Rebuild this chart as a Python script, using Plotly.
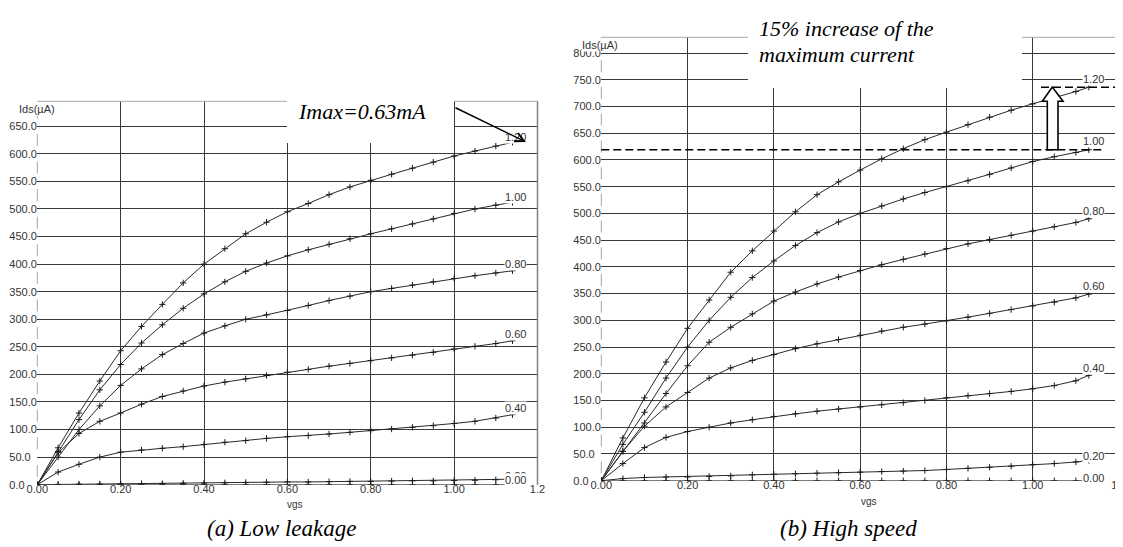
import plotly.graph_objects as go

W, H = 1123, 547

# ---------------- data ----------------
gate_labels = ["1.20", "1.00", "0.80", "0.60", "0.40", "0.20", "0.00"]

# (a) Low leakage : Ids (uA) versus vds (V)
vds_ll = [0.00, 0.05, 0.10, 0.15, 0.20, 0.25, 0.30, 0.35, 0.40, 0.45, 0.50, 0.55,
          0.60, 0.65, 0.70, 0.75, 0.80, 0.85, 0.90, 0.95, 1.00, 1.05, 1.10, 1.14]
ll_vg120 = [0, 67, 130, 188, 243, 287, 327, 366, 400, 428, 455, 476,
            495, 510, 526, 540, 552, 563, 574, 585, 596, 605, 614, 621]
ll_vg100 = [0, 60, 118, 172, 218, 257, 290, 320, 346, 368, 387, 402,
            415, 426, 436, 446, 455, 464, 473, 482, 492, 500, 507, 512]
ll_vg080 = [0, 50, 100, 143, 180, 210, 236, 256, 275, 288, 300, 308,
            316, 325, 334, 342, 350, 356, 362, 368, 374, 379, 384, 388]
ll_vg060 = [0, 58, 93, 115, 130, 146, 160, 170, 179, 186, 192, 198,
            204, 209, 215, 220, 225, 230, 235, 240, 246, 251, 256, 261]
ll_vg040 = [0, 23, 37, 50, 59, 63, 66, 69, 73, 77, 80, 84,
            87, 89, 92, 95, 98, 101, 104, 107, 111, 115, 121, 127]
ll_vg020 = [0, 0.5, 1, 1, 1.5, 2, 2, 2.5, 3, 3.5, 4, 4.5,
            5, 5, 5.5, 6, 6, 6.5, 7, 7, 7.5, 8, 9, 10]
ll_vg000 = [0, 0, 0, 0, 0, 0, 0, 0, 0, 0, 0, 0,
            0, 0, 0, 0, 0, 0, 0, 0, 0, 0, 0, 0]

# (b) High speed
vds_hs = [0.00, 0.05, 0.10, 0.15, 0.20, 0.25, 0.30, 0.35, 0.40, 0.45, 0.50, 0.55,
          0.60, 0.65, 0.70, 0.75, 0.80, 0.85, 0.90, 0.95, 1.00, 1.05, 1.10, 1.13]
hs_vg120 = [0, 80, 155, 222, 285, 338, 390, 430, 467, 503, 535, 559,
            581, 602, 621, 638, 652, 666, 680, 693, 705, 716, 728, 736]
hs_vg100 = [0, 68, 128, 192, 250, 300, 343, 380, 411, 440, 464, 484,
            500, 514, 527, 539, 550, 561, 573, 585, 597, 606, 614, 619]
hs_vg080 = [0, 55, 108, 163, 215, 259, 287, 312, 336, 353, 368, 381,
            393, 404, 414, 424, 434, 443, 451, 459, 467, 475, 483, 490]
hs_vg060 = [0, 55, 102, 138, 165, 192, 211, 225, 236, 247, 256, 264,
            272, 280, 287, 293, 299, 306, 313, 320, 327, 334, 342, 349]
hs_vg040 = [0, 32, 62, 81, 92, 100, 108, 114, 120, 125, 130, 134,
            138, 142, 146, 150, 155, 159, 163, 167, 172, 178, 187, 197]
hs_vg020 = [0, 4, 6, 7, 7, 8, 9, 11, 12, 13, 14, 15,
            16, 17, 18, 19, 21, 23, 25, 27, 30, 32, 35, 38]
hs_vg000 = [0, 0, 0, 0, 0, 0, 0, 0, 0, 0, 0, 0,
            0, 0, 0, 0, 0, 0, 0, 0, 0, 0, 0, 0]

x_tickvals = [0.0, 0.2, 0.4, 0.6, 0.8, 1.0, 1.2]
x_ticktext = ["0.00", "0.20", "0.40", "0.60", "0.80", "1.00", "1.2"]
x_gridvals = [0.2, 0.4, 0.6, 0.8, 1.0]
y_tickvals_ll = [0, 50, 100, 150, 200, 250, 300, 350, 400, 450, 500, 550, 600, 650]
y_tickvals_hs = [0, 50, 100, 150, 200, 250, 300, 350, 400, 450, 500, 550, 600, 650, 700, 750, 800]
y_max_ll = 695.3
y_max_hs = 829.4

ll_series = [ll_vg120, ll_vg100, ll_vg080, ll_vg060, ll_vg040, ll_vg020, ll_vg000]
hs_series = [hs_vg120, hs_vg100, hs_vg080, hs_vg060, hs_vg040, hs_vg020, hs_vg000]

# ---------------- layout geometry (pixels) ----------------
def px(x):
    return x / W

def py(y):
    return 1 - y / H

LL_X = (29.3, 529.5)
LL_Y = (476.7, 93.3)
HS_X = (593.3, 1111.0)
HS_Y = (472.7, 29.3)

SANS = "Liberation Sans, Arial, sans-serif"
SERIF = "Liberation Serif, Times New Roman, serif"
GRID = "#3a3a3a"
TXT = "#333333"

fig = go.Figure()

curve_line = dict(color="#2a2a2a", width=1)
curve_marker = dict(symbol="cross-thin", size=4.5, color="#1a1a1a",
                    line=dict(width=1, color="#1a1a1a"))

for vals in ll_series:
    fig.add_trace(go.Scatter(x=vds_ll, y=vals, xaxis="x", yaxis="y",
                             mode="lines+markers", line=curve_line,
                             marker=curve_marker, showlegend=False,
                             hoverinfo="skip"))
for vals in hs_series:
    fig.add_trace(go.Scatter(x=vds_hs, y=vals, xaxis="x2", yaxis="y2",
                             mode="lines+markers", line=curve_line,
                             marker=curve_marker, showlegend=False,
                             hoverinfo="skip"))

def xaxis_cfg(dom, anchor):
    return dict(domain=[px(dom[0]), px(dom[1])], range=[0, 1.2], anchor=anchor,
                tickmode="array", tickvals=x_tickvals, ticktext=x_ticktext,
                showgrid=False, zeroline=False, showline=False, ticks="",
                ticklabelstandoff=-4,
                minor=dict(tickmode="array", tickvals=x_gridvals, showgrid=True,
                           gridcolor=GRID, gridwidth=1, ticks=""),
                tickfont=dict(family=SANS, size=11, color=TXT),
                automargin=False, fixedrange=True)

def yaxis_cfg(dom, top, tickvals, anchor):
    return dict(domain=[py(dom[0]), py(dom[1])], range=[0, top], anchor=anchor,
                tickmode="array", tickvals=tickvals, tickformat=".1f",
                showgrid=True, gridcolor=GRID, gridwidth=1,
                zeroline=False, showline=False, ticks="",
                ticklabelposition="inside", ticklabelstandoff=-31,
                ticklabeloverflow="allow",
                tickfont=dict(family=SANS, size=11, color=TXT),
                automargin=False, fixedrange=True)

shapes = []
# hide grid stubs under the y tick labels (between grid and traces)
for xs, ys in [(LL_X, LL_Y), (HS_X, HS_Y)]:
    shapes.append(dict(type="rect", xref="paper", yref="paper", layer="between",
                       x0=px(xs[0] + 0.6), x1=px(xs[0] + 8), y0=py(ys[0] + 1), y1=py(ys[1]),
                       fillcolor="white", line=dict(width=0)))

# light dashed y axis lines, top and right borders
for xs, ys, yref, top, period in [(LL_X, LL_Y, "y", y_max_ll, 27.57), (HS_X, HS_Y, "y2", y_max_hs, 26.73)]:
    gap = (period - 12) / 2
    shapes.append(dict(type="line", xref="paper", yref=yref, layer="above",
                       x0=px(xs[0]), x1=px(xs[0]), y0=0, y1=top,
                       line=dict(color="#a6a6a6", width=1,
                                 dash="0px,%.2fpx,12px,%.2fpx" % (gap, gap))))
    shapes.append(dict(type="line", xref="paper", yref="paper", layer="above",
                       x0=px(xs[0]), x1=px(xs[1]), y0=py(ys[1]), y1=py(ys[1]),
                       line=dict(color="#a8a8a8", width=1)))
    shapes.append(dict(type="line", xref="paper", yref="paper", layer="above",
                       x0=px(xs[1]), x1=px(xs[1]), y0=py(ys[0]), y1=py(ys[1]),
                       line=dict(color="#808080", width=1.5)))

# white boxes behind the note texts
shapes.append(dict(type="rect", xref="paper", yref="paper", layer="above",
                   x0=px(279), x1=px(446), y0=py(135), y1=py(60),
                   fillcolor="white", line=dict(width=0)))
shapes.append(dict(type="rect", xref="paper", yref="paper", layer="above",
                   x0=px(740), x1=px(1014), y0=py(80), y1=py(0),
                   fillcolor="white", line=dict(width=0)))

# dashed max-current lines (high speed)
shapes.append(dict(type="line", xref="paper", yref="y2", layer="above",
                   x0=px(HS_X[0]), x1=px(1095), y0=hs_vg100[-1], y1=hs_vg100[-1],
                   line=dict(color="black", width=1.5, dash="8px,4px")))
shapes.append(dict(type="line", xref="paper", yref="y2", layer="above",
                   x0=px(1033), x1=px(1120), y0=hs_vg120[-1], y1=hs_vg120[-1],
                   line=dict(color="black", width=1.5, dash="8px,4px")))

# hollow block arrow
pts = [(1039.3, 141.7), (1039.3, 93.3), (1034.3, 93.3), (1044.3, 79.0),
       (1055.0, 93.3), (1050.0, 93.3), (1050.0, 141.7)]
path = "M " + " L ".join("%.5f,%.5f" % (px(a), py(b)) for a, b in pts) + " Z"
shapes.append(dict(type="path", xref="paper", yref="paper", layer="above", path=path,
                   fillcolor="white", line=dict(color="black", width=1.6)))

annotations = []
lab_font = dict(family=SANS, size=11, color=TXT)
ll_yshift = [5, 5, 7, 7, 7, 3.5, 4.5]
hs_yshift = [8, 8.5, 8, 8, 7.4, 4.7, 2.7]
for lab, vals, ys in zip(gate_labels, ll_series, ll_yshift):
    annotations.append(dict(x=vds_ll[-1], y=vals[-1], xref="x", yref="y", text=lab,
                            showarrow=False, xshift=3.5, yshift=ys, font=lab_font,
                            xanchor="center", yanchor="middle",
                            bgcolor="white", borderpad=0))
for lab, vals, ys in zip(gate_labels, hs_series, hs_yshift):
    annotations.append(dict(x=vds_hs[-1], y=vals[-1], xref="x2", yref="y2", text=lab,
                            showarrow=False, xshift=5, yshift=ys, font=lab_font,
                            xanchor="center", yanchor="middle",
                            bgcolor="white", borderpad=0))

# axis captions
annotations.append(dict(x=px(10), y=py(101), xref="paper", yref="paper", text="Ids(µA)",
                        xanchor="left", yanchor="middle", showarrow=False, font=lab_font,
                        bgcolor="white", borderpad=0))
annotations.append(dict(x=px(573), y=py(37), xref="paper", yref="paper", text="Ids(µA)",
                        xanchor="left", yanchor="middle", showarrow=False, font=lab_font,
                        bgcolor="white", borderpad=0))
annotations.append(dict(x=px(287), y=py(496), xref="paper", yref="paper", text="vgs",
                        xanchor="center", yanchor="middle",
                        showarrow=False, font=dict(family=SANS, size=10, color=TXT)))
annotations.append(dict(x=px(861), y=py(493), xref="paper", yref="paper", text="vgs",
                        xanchor="center", yanchor="middle",
                        showarrow=False, font=dict(family=SANS, size=10, color=TXT)))

# notes
note_font = dict(family=SERIF, size=22, color="black")
annotations.append(dict(x=px(288), y=py(103), xref="paper", yref="paper",
                        text="<i>Imax=0.63mA</i>", xanchor="left", yanchor="middle",
                        showarrow=False, font=note_font))
annotations.append(dict(x=px(518), y=py(134), xref="paper", yref="paper", text="",
                        showarrow=True, axref="pixel", ayref="pixel", ax=-72, ay=-35,
                        arrowhead=5, arrowsize=1.2, arrowwidth=1.5, arrowcolor="black"))
annotations.append(dict(x=px(749), y=py(20), xref="paper", yref="paper",
                        text="<i>15% increase of the</i>", xanchor="left", yanchor="middle",
                        showarrow=False, font=note_font))
annotations.append(dict(x=px(749), y=py(47), xref="paper", yref="paper",
                        text="<i>maximum current</i>", xanchor="left", yanchor="middle",
                        showarrow=False, font=note_font))

# sub-figure captions
cap_font = dict(family=SERIF, size=23, color="black")
annotations.append(dict(x=px(273), y=py(520), xref="paper", yref="paper",
                        text="<i>(a) Low leakage</i>", xanchor="center", yanchor="middle",
                        showarrow=False, font=cap_font))
annotations.append(dict(x=px(840), y=py(520), xref="paper", yref="paper",
                        text="<i>(b) High speed</i>", xanchor="center", yanchor="middle",
                        showarrow=False, font=cap_font))

fig.update_layout(
    width=W, height=H,
    margin=dict(l=0, r=0, t=0, b=0, pad=0),
    paper_bgcolor="white", plot_bgcolor="white",
    xaxis=xaxis_cfg(LL_X, "y"),
    yaxis=yaxis_cfg(LL_Y, y_max_ll, y_tickvals_ll, "x"),
    xaxis2=xaxis_cfg(HS_X, "y2"),
    yaxis2=yaxis_cfg(HS_Y, y_max_hs, y_tickvals_hs, "x2"),
    shapes=shapes,
    annotations=annotations,
    showlegend=False,
)

fig.write_html("out.html")
